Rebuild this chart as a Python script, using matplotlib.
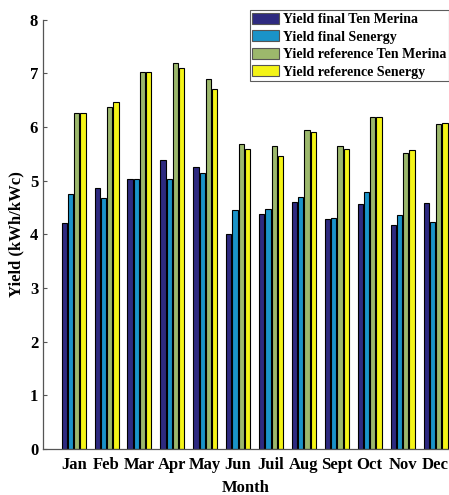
import numpy as np
import matplotlib
matplotlib.use("Agg")
import matplotlib.pyplot as plt

months = ["Jan", "Feb", "Mar", "Apr", "May", "Jun", "Juil", "Aug", "Sept", "Oct", "Nov", "Dec"]
final_ten_merina = [4.21, 4.86, 5.04, 5.39, 5.26, 4.01, 4.38, 4.60, 4.29, 4.57, 4.18, 4.59]
final_senergy = [4.75, 4.68, 5.04, 5.04, 5.14, 4.46, 4.48, 4.70, 4.30, 4.79, 4.37, 4.24]
ref_ten_merina = [6.27, 6.38, 7.03, 7.20, 6.90, 5.69, 5.64, 5.95, 5.65, 6.19, 5.52, 6.06]
ref_senergy = [6.27, 6.46, 7.02, 7.11, 6.71, 5.60, 5.47, 5.90, 5.60, 6.19, 5.58, 6.08]

series = [
    ("Yield final Ten Merina", final_ten_merina, "#2E2A80"),
    ("Yield final Senergy", final_senergy, "#1A93C8"),
    ("Yield reference Ten Merina", ref_ten_merina, "#9CB86C"),
    ("Yield reference Senergy", ref_senergy, "#F4F417"),
]

plt.rcParams["font.family"] = ["Liberation Serif", "DejaVu Serif"]
plt.rcParams["font.weight"] = "bold"

fig = plt.figure(figsize=(4.49, 4.95), dpi=100)
ax = fig.add_axes([0.096, 0.093, 0.904, 0.867])

x = np.arange(1, len(months) + 1)
offsets = [-0.285, -0.095, 0.095, 0.285]
width = 0.16
for (label, vals, color), off in zip(series, offsets):
    ax.bar(x + off, vals, width, color=color, edgecolor="black", linewidth=0.8, label=label)

ax.set_xlim(0.07, 12.41)
ax.set_ylim(0, 8)
ax.set_yticks(range(0, 9))
ax.set_xticks(x)
ax.set_xticklabels(months)
ax.tick_params(axis="both", direction="in", length=3, width=0.8, colors="#555555",
               labelcolor="black", labelsize=12)
ax.tick_params(axis="x", length=0, pad=6)
for lbl in ax.get_xticklabels() + ax.get_yticklabels():
    lbl.set_fontweight("bold")

ax.spines["top"].set_visible(False)
ax.spines["right"].set_visible(False)
for s in ("left", "bottom"):
    ax.spines[s].set_color("#555555")
    ax.spines[s].set_linewidth(0.9)

ax.set_ylabel("Yield (kWh/kWc)", fontsize=12, fontweight="bold", labelpad=4)
ax.set_xlabel("Month", fontsize=12, fontweight="bold", labelpad=5)

leg = ax.legend(loc="upper right", bbox_to_anchor=(1.0, 1.023),
                prop={"weight": "bold", "size": 10}, frameon=True, fancybox=False,
                handlelength=1.9, handleheight=0.85, handletextpad=0.3,
                labelspacing=0.3, borderpad=0.2, borderaxespad=0.0)
leg.get_frame().set_edgecolor("#333333")
leg.get_frame().set_linewidth(0.8)
for h in leg.legend_handles:
    h.set_edgecolor("#555555")

fig.savefig("out.png", dpi=100, facecolor="white")
